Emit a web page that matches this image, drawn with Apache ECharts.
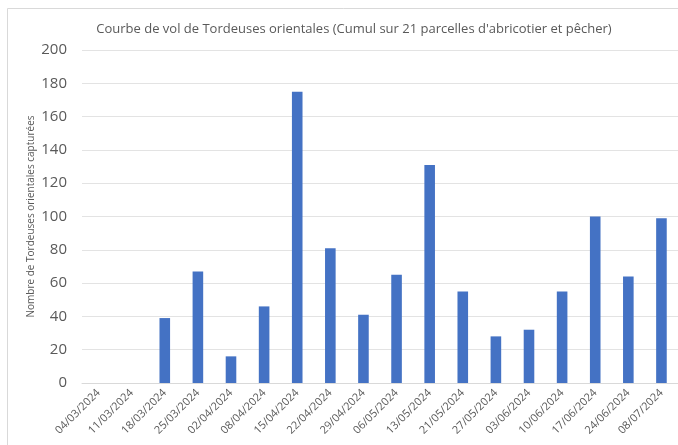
<!DOCTYPE html>
<html>
<head>
<meta charset="utf-8">
<script src="https://cdn.jsdelivr.net/npm/echarts@6/dist/echarts.min.js"></script>
<style>
  html, body { margin: 0; padding: 0; background: #fff; }
  #chart { width: 678px; height: 445px; }
</style>
</head>
<body>
<div id="chart"></div>
<script>
// dates des relevés
const dates = [
  '04/03/2024', '11/03/2024', '18/03/2024', '25/03/2024', '02/04/2024', '08/04/2024',
  '15/04/2024', '22/04/2024', '29/04/2024', '06/05/2024', '13/05/2024', '21/05/2024',
  '27/05/2024', '03/06/2024', '10/06/2024', '17/06/2024', '24/06/2024', '08/07/2024'
];
// nombre de tordeuses capturées (cumul 21 parcelles)
const captures = [0, 0, 39, 67, 16, 46, 175, 81, 41, 65, 131, 55, 28, 32, 55, 100, 64, 99];

const chart = echarts.init(document.getElementById('chart'));
const textGrey = '#595959';

chart.setOption({
  animation: false,
  backgroundColor: '#fff',
  title: {
    text: "Courbe de vol de Tordeuses orientales (Cumul sur 21 parcelles d'abricotier et pêcher)",
    left: 349,
    textAlign: 'center',
    top: 18,
    textStyle: { fontFamily: 'Open Sans', fontSize: 13, fontWeight: 'normal', color: textGrey }
  },
  graphic: [{
    type: 'rect',
    shape: { x: 7.5, y: 8.5, width: 700, height: 460 },
    style: { fill: 'none', stroke: '#d9d9d9', lineWidth: 1 },
    silent: true
  }],
  grid: { left: 82, top: 50, width: 597, height: 333 },
  xAxis: {
    type: 'category',
    data: dates,
    axisLine: { lineStyle: { color: '#d9d9d9', width: 1 } },
    axisTick: { show: false },
    axisLabel: {
      rotate: 45,
      interval: 0,
      margin: 8,
      fontFamily: 'Open Sans',
      fontSize: 11,
      color: textGrey
    }
  },
  yAxis: {
    type: 'value',
    min: 0,
    max: 200,
    interval: 20,
    name: 'Nombre de Tordeuses orientales capturées',
    nameLocation: 'middle',
    nameGap: 46,
    nameMoveOverlap: false,
    nameTextStyle: { fontFamily: 'Open Sans', fontSize: 10, color: textGrey },
    axisLine: { show: false },
    axisTick: { show: false },
    axisLabel: { fontFamily: 'Open Sans', fontSize: 15, color: textGrey, margin: 15 },
    splitLine: { lineStyle: { color: '#e3e3e3', width: 1 } }
  },
  series: [{
    type: 'bar',
    data: captures,
    barWidth: '32%',
    itemStyle: { color: '#4472C4' }
  }]
});
</script>
</body>
</html>
